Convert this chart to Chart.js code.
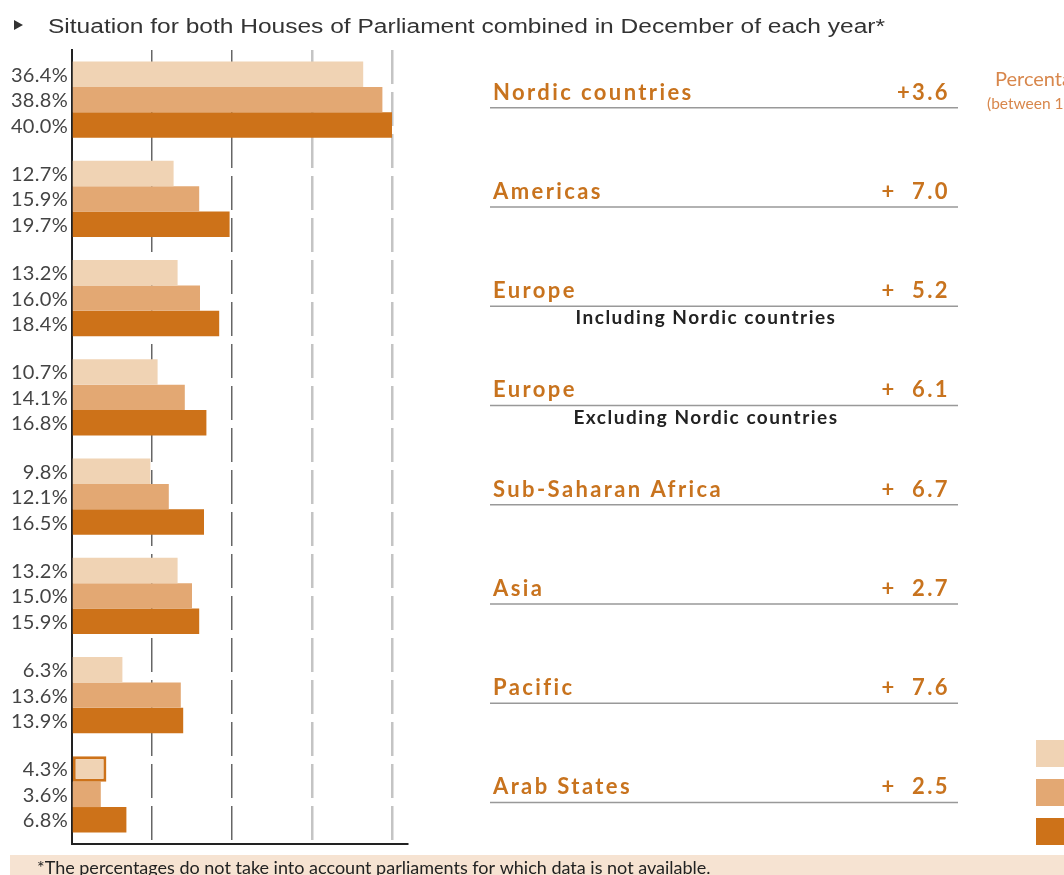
<!DOCTYPE html>
<html>
<head>
<meta charset="utf-8">
<script src="https://cdn.jsdelivr.net/npm/chart.js@4/dist/chart.umd.min.js"></script>
<style>
  html, body { margin: 0; padding: 0; background: #fff; }
  #wrap { width: 1064px; height: 875px; }
</style>
</head>
<body>
<div id="wrap"><canvas id="chart" width="1064" height="875"></canvas></div>
<script>
// data
const regions = ['Nordic countries', 'Americas', 'Europe', 'Europe', 'Sub-Saharan Africa', 'Asia', 'Pacific', 'Arab States'];
const subNotes = ['', '', 'Including Nordic countries', 'Excluding Nordic countries', '', '', '', ''];
const years = ['1995', '2000', '2005'];
const share1995 = [36.4, 12.7, 13.2, 10.7, 9.8, 13.2, 6.3, 4.3];
const share2000 = [38.8, 15.9, 16.0, 14.1, 12.1, 15.0, 13.6, 3.6];
const share2005 = [40.0, 19.7, 18.4, 16.8, 16.5, 15.9, 13.9, 6.8];
const changes = ['+3.6', '+  7.0', '+  5.2', '+  6.1', '+  6.7', '+  2.7', '+  7.6', '+  2.5'];
const gridTicks = [10, 20, 30, 40];

const colors = ['#F0D3B4', '#E3A873', '#CD7219'];
const orange = '#C8731E';

// text squeezed or stretched sideways to a given width
function fitText(ctx, text, x, y, width) {
  const w = ctx.measureText(text).width;
  ctx.save();
  ctx.translate(x, y);
  ctx.scale(width / w, 1);
  ctx.fillText(text, 0, 0);
  ctx.restore();
}

// draws the title, value labels, region labels, legend squares and footnote
const decorations = {
  id: 'decorations',
  afterDraw(chart) {
    const ctx = chart.ctx;
    const y = chart.scales.y;
    ctx.save();

    // title
    ctx.fillStyle = '#333';
    ctx.beginPath();
    ctx.moveTo(14, 20); ctx.lineTo(23, 25); ctx.lineTo(14, 30); ctx.closePath();
    ctx.fill();
    ctx.font = '20px "Liberation Sans", sans-serif';
    ctx.textBaseline = 'alphabetic';
    ctx.textAlign = 'left';
    fitText(ctx, 'Situation for both Houses of Parliament combined in December of each year*', 48, 33, 837);

    // value labels left of the bars
    ctx.font = '20px Lato, sans-serif';
    ctx.letterSpacing = '0.3px';
    ctx.fillStyle = '#444';
    ctx.textAlign = 'right';
    ctx.textBaseline = 'middle';
    chart.data.datasets.forEach((ds, di) => {
      chart.getDatasetMeta(di).data.forEach((bar, i) => {
        ctx.fillText(ds.data[i].toFixed(1) + '%', 68, bar.y + 1);
      });
    });

    // region names and change, with rule
    regions.forEach((name, i) => {
      const cy = y.getPixelForValue(i);
      ctx.font = 'bold 22px Lato, sans-serif';
      ctx.letterSpacing = '2.4px';
      ctx.fillStyle = orange;
      ctx.textAlign = 'left';
      ctx.fillText(name, 493, cy - 7);
      ctx.textAlign = 'right';
      ctx.fillText(changes[i], 950, cy - 7);
      ctx.letterSpacing = '0px';
      ctx.strokeStyle = '#999';
      ctx.lineWidth = 1.5;
      ctx.beginPath();
      ctx.moveTo(490, cy + 8); ctx.lineTo(958, cy + 8);
      ctx.stroke();
      if (subNotes[i]) {
        ctx.font = 'bold 19px Lato, sans-serif';
        ctx.letterSpacing = '1.5px';
        ctx.fillStyle = '#222';
        ctx.textAlign = 'center';
        ctx.fillText(subNotes[i], 706, cy + 20);
        ctx.letterSpacing = '0px';
      }
    });

    // side heading (runs off the right edge)
    ctx.textAlign = 'left';
    ctx.fillStyle = '#D8874C';
    ctx.font = '20px Lato, sans-serif';
    ctx.fillText('Percentage point change', 995, 80);
    ctx.font = '15.5px Lato, sans-serif';
    ctx.fillText('(between 1995 and 2005)', 987, 104);

    // legend squares
    chart.data.datasets.forEach((ds, di) => {
      const top = 740 + di * 39;
      ctx.fillStyle = ds.backgroundColor;
      ctx.fillRect(1036, top, 30, 27);
      ctx.fillStyle = '#444';
      ctx.font = '16px Lato, sans-serif';
      ctx.fillText(ds.label, 1076, top + 14);
    });

    // footnote band
    ctx.fillStyle = '#F6E3D2';
    ctx.fillRect(10, 855, 1054, 20);
    ctx.fillStyle = '#222';
    ctx.font = '18px Lato, sans-serif';
    ctx.textBaseline = 'alphabetic';
    ctx.fillText('*The percentages do not take into account parliaments for which data is not available.', 37, 874);

    ctx.restore();
  }
};

new Chart(document.getElementById('chart'), {
  type: 'bar',
  data: {
    labels: regions,
    datasets: [
      { label: years[0], data: share1995, backgroundColor: colors[0],
        borderColor: colors[2], borderWidth: c => c.dataIndex === 7 ? 3 : 0, borderSkipped: false },
      { label: years[1], data: share2000, backgroundColor: colors[1] },
      { label: years[2], data: share2005, backgroundColor: colors[2] }
    ]
  },
  options: {
    indexAxis: 'y',
    responsive: false,
    animation: false,
    layout: { padding: { left: 72, right: 656, top: 50, bottom: 31 } },
    datasets: { bar: { categoryPercentage: 0.77, barPercentage: 1.0 } },
    plugins: {
      legend: { display: false },
      tooltip: { enabled: false }
    },
    scales: {
      x: {
        min: 0,
        max: 42,
        afterBuildTicks: s => { s.ticks = [0].concat(gridTicks).map(v => ({ value: v })); },
        ticks: { display: false },
        grid: {
          drawTicks: false,
          color: c => c.tick && c.tick.value === 0 ? 'rgba(0,0,0,0)' : (c.tick && c.tick.value <= 20 ? '#666' : '#c4c4c4'),
          lineWidth: c => c.tick && c.tick.value <= 20 ? 1.5 : 2.5
        },
        border: { display: true, color: '#222', width: 2, dash: [34, 8] }
      },
      y: {
        ticks: { display: false },
        grid: { display: false, drawTicks: false },
        border: { display: true, color: '#222', width: 2 }
      }
    }
  },
  plugins: [decorations]
});
</script>
</body>
</html>
